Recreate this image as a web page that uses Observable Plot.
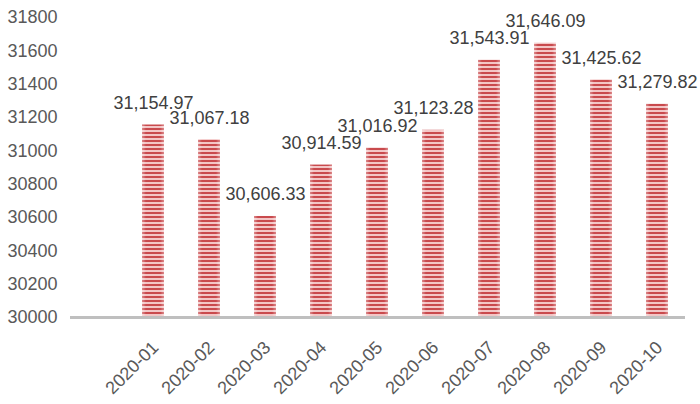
<!DOCTYPE html>
<html><head><meta charset="utf-8">
<script src="https://cdn.jsdelivr.net/npm/d3@7"></script>
<script src="https://cdn.jsdelivr.net/npm/@observablehq/plot@0.6"></script>
<style>body{margin:0;background:#fff}</style>
</head><body><div id="chart"></div>
<script>
const months = ["2020-01","2020-02","2020-03","2020-04","2020-05","2020-06","2020-07","2020-08","2020-09","2020-10"];
const values = [31154.97, 31067.18, 30606.33, 30914.59, 31016.92, 31123.28, 31543.91, 31646.09, 31425.62, 31279.82];
const yTicks = [30000,30200,30400,30600,30800,31000,31200,31400,31600,31800];

const data = months.map((m, i) => ({month: m, value: values[i]}));
const fmt = d3.format(",.2f");
const base = yTicks[0];

const plot = Plot.plot({
  width: 700, height: 404,
  marginTop: 17, marginBottom: 87, marginLeft: 70, marginRight: 15,
  style: {fontFamily: '"Liberation Sans", Arial, Helvetica, sans-serif', background: "#fff"},
  x: {type: "band", domain: months, range: [125, 685], paddingInner: 0.607, paddingOuter: 0.3035, axis: null},
  y: {domain: [yTicks[0], yTicks[yTicks.length - 1]], axis: null},
  marks: [
    Plot.axisY({ticks: yTicks, tickSize: 0, tickPadding: 13, fontSize: 18, color: "#595959", tickFormat: d => String(d), label: null}),
    Plot.barY(data, {x: "month", y1: base, y2: "value", fill: "url(#stripes)"}),
    Plot.barY(data, {x: "month", y1: base, y2: "value", fill: "url(#edgeglow)"}),
    Plot.ruleY([base], {stroke: "#bfbfbf", strokeWidth: 3}),
    Plot.text(data, {x: "month", y: "value", text: d => fmt(d.value), dy: -16, lineAnchor: "bottom", fontSize: 18, fill: "#404040"}),
    Plot.text(data, {x: "month", y: () => base, text: "month", rotate: -45, textAnchor: "end", lineAnchor: "middle", dx: 2, dy: 27, fontSize: 18, fill: "#595959"})
  ]
});

const svg = d3.select(plot);
const defs = svg.insert("defs", ":first-child");
const pat = defs.append("pattern").attr("id", "stripes").attr("patternUnits", "userSpaceOnUse").attr("width", 8).attr("height", 4);
pat.append("rect").attr("width", 8).attr("height", 2).attr("fill", "#c94a4d");
pat.append("rect").attr("y", 2).attr("width", 8).attr("height", 2).attr("fill", "#f3c6c6");
const grad = defs.append("linearGradient").attr("id", "edgeglow").attr("x1", 0).attr("x2", 1).attr("y1", 0).attr("y2", 0);
[[0, 0.35], [0.18, 0], [0.82, 0], [1, 0.35]].forEach(([o, a]) =>
  grad.append("stop").attr("offset", o).attr("stop-color", "#fff").attr("stop-opacity", a));

document.getElementById("chart").appendChild(plot);
</script>
</body></html>
